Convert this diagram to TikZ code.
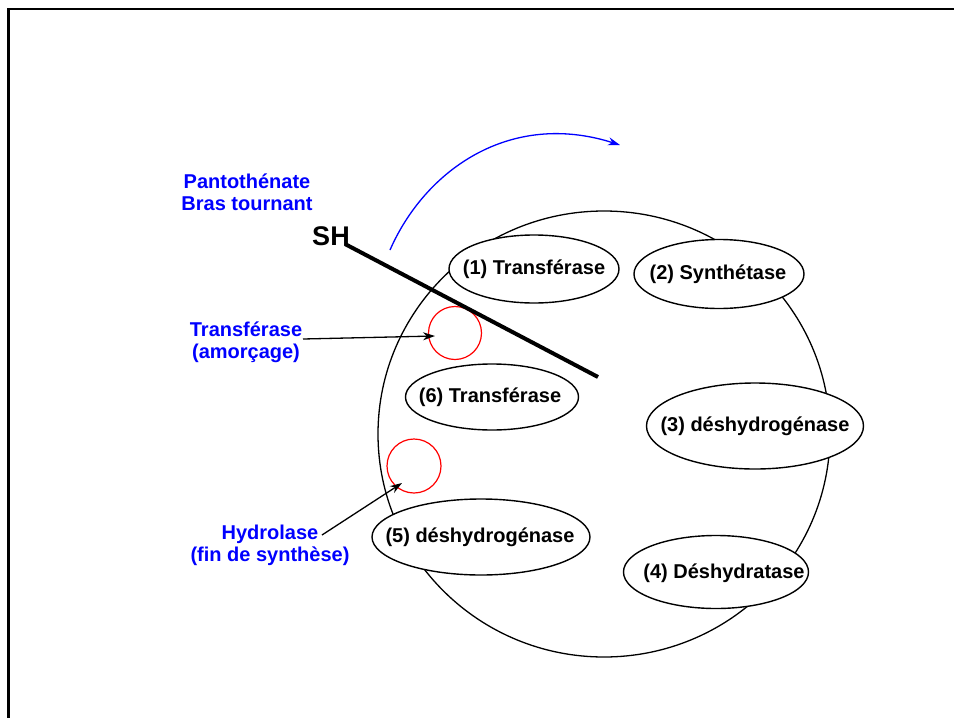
\documentclass[tikz,border=0pt]{standalone}
\usepackage{fontspec}
\setmainfont{Liberation Sans}
\usetikzlibrary{shapes.geometric,arrows.meta}
\definecolor{pblue}{RGB}{0,0,255}
\definecolor{pred}{RGB}{255,0,0}
\tikzset{
  enzyme/.style={ellipse, draw=black, fill=white, line width=1.4pt, inner sep=0pt},
  etext/.style={font=\fontsize{20}{22}\selectfont\bfseries, inner sep=0pt},
  bluelabel/.style={font=\fontsize{20}{22}\selectfont\bfseries, text=pblue, align=center, inner sep=0pt},
  site/.style={circle, draw=pred, line width=1.2pt, inner sep=0pt},
  pointer/.style={line width=1.3pt, -{Stealth[length=12pt,width=8pt]}}
}
\begin{document}
\begin{tikzpicture}[x=1pt,y=-1pt]
\useasboundingbox (0,0) rectangle (954,718);
% frame
\draw[line width=2.5pt] (8.5,718) -- (8.5,9) -- (954,9);
% big circle
\node[ellipse, draw, line width=1.3pt, minimum width=452pt, minimum height=446pt, inner sep=0pt] (big) at (604,434) {};
% enzymes
\node[enzyme, minimum width=170pt, minimum height=68pt] (e1) at (534,269) {};
\node[etext] (t1) at (534,269) {(1) Transférase};
\node[enzyme, minimum width=170pt, minimum height=69pt] (e2) at (719,274) {};
\node[etext] (t2) at (718,274) {(2) Synthétase};
\node[enzyme, minimum width=217pt, minimum height=86pt] (e3) at (755,426) {};
\node[etext] (t3) at (755,426) {(3) déshydrogénase};
\node[enzyme, minimum width=185pt, minimum height=73pt] (e4) at (716,572) {};
\node[etext] (t4) at (724,573) {(4) Déshydratase};
\node[enzyme, minimum width=218pt, minimum height=76pt] (e5) at (481,537) {};
\node[etext] (t5) at (480,537) {(5) déshydrogénase};
\node[enzyme, minimum width=173pt, minimum height=66pt] (e6) at (492,397) {};
\node[etext] (t6) at (490,397) {(6) Transférase};
% red sites
\node[site, minimum size=53pt] (r1) at (455,333) {};
\node[site, minimum size=54pt] (r2) at (414,466) {};
% rotating arm
\coordinate (arm0) at (345,244);
\coordinate (arm1) at (598,377);
\draw[line width=4pt] (arm0) -- (arm1);
\node[font=\fontsize{27}{30}\selectfont\bfseries, inner sep=0pt] (sh) at (331,236) {SH};
% blue rotation arrow
\coordinate (b0) at (390,250);
\coordinate (b1) at (620,145);
\draw[pblue, line width=1.3pt, -{Stealth[length=12pt,width=8pt]}] (b0) .. controls (425,170) and (510,110) .. (b1);
% labels
\node[bluelabel] (lp) at (247,192) {Pantothénate\\Bras tournant};
\node[bluelabel] (lt) at (246,342) {Transférase\\(amorçage)};
\node[bluelabel] (lh) at (270,545) {Hydrolase\\(fin de synthèse)};
% pointers
\coordinate (p1s) at (303,339);
\coordinate (p1e) at (435,336);
\draw[pointer] (p1s) -- (p1e);
\coordinate (p2s) at (322,535);
\coordinate (p2e) at (402,483);
\draw[pointer] (p2s) -- (p2e);
\end{tikzpicture}
\end{document}
